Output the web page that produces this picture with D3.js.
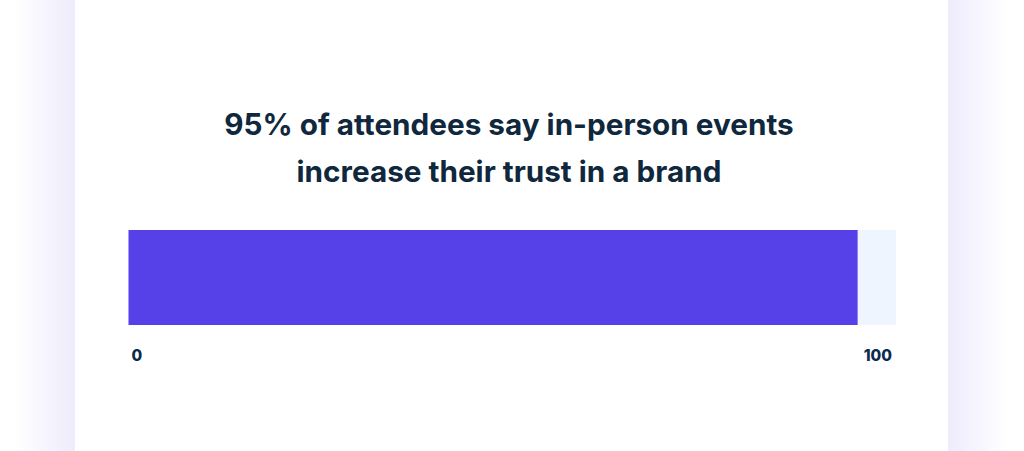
<!DOCTYPE html>
<html><head><meta charset="utf-8">
<script src="https://cdn.jsdelivr.net/npm/d3@7"></script>
<style>html,body{margin:0;padding:0;background:#fff;overflow:hidden}</style>
</head><body>
<svg id="c" width="1024" height="451"></svg>
<script>
const titleLines = ["95% of attendees say in-person events", "increase their trust in a brand"];
const categories = ["Trust increase"];
const values = [95];
const domainMax = 100;
const tickLabels = [0, 100];

const svg = d3.select("#c");
const defs = svg.append("defs");
const gl = defs.append("linearGradient").attr("id","gl").attr("x1","0").attr("x2","1");
gl.append("stop").attr("offset","0").attr("stop-color","#ffffff");
gl.append("stop").attr("offset","1").attr("stop-color","#eeebfc");
const gr = defs.append("linearGradient").attr("id","gr").attr("x1","0").attr("x2","1");
gr.append("stop").attr("offset","0").attr("stop-color","#eeebfc");
gr.append("stop").attr("offset","1").attr("stop-color","#ffffff");

svg.append("rect").attr("x",0).attr("y",0).attr("width",1024).attr("height",451).attr("fill","#fff");
svg.append("rect").attr("x",15).attr("y",0).attr("width",60).attr("height",451).attr("fill","url(#gl)");
svg.append("rect").attr("x",948).attr("y",0).attr("width",60).attr("height",451).attr("fill","url(#gr)");

const title = svg.append("text").attr("text-anchor","middle")
  .attr("font-family","Inter, 'Noto Sans', sans-serif").attr("font-weight",700)
  .attr("font-size",29.7).attr("fill","#0f283d");
titleLines.forEach((t,i)=>{
  title.append("tspan").attr("x",509).attr("y",135 + i*46.5).text(t);
});

const x = d3.scaleLinear().domain([0, domainMax]).range([128.5, 896]);
const y = d3.scaleBand().domain(categories).range([230, 325]).padding(0);

svg.append("g").selectAll("rect.track").data(categories).join("rect")
  .attr("x", x(0)).attr("width", x(domainMax)-x(0))
  .attr("y", d=>y(d)).attr("height", y.bandwidth()).attr("fill","#eef5ff");

svg.append("g").selectAll("rect.bar").data(values).join("rect")
  .attr("x", x(0)).attr("width", d=>x(d)-x(0))
  .attr("y", (d,i)=>y(categories[i])).attr("height", y.bandwidth()).attr("fill","#5641e9");

svg.append("g").selectAll("text").data(tickLabels).join("text")
  .attr("x", d=> d===0 ? x(d)+3 : x(d)-4)
  .attr("y", 361)
  .attr("text-anchor", d=> d===0 ? "start" : "end")
  .attr("font-family","Inter, 'Noto Sans', sans-serif").attr("font-weight",800)
  .attr("font-size",15.5).attr("fill","#0b2b4e")
  .text(d=>d);
</script>
</body></html>
